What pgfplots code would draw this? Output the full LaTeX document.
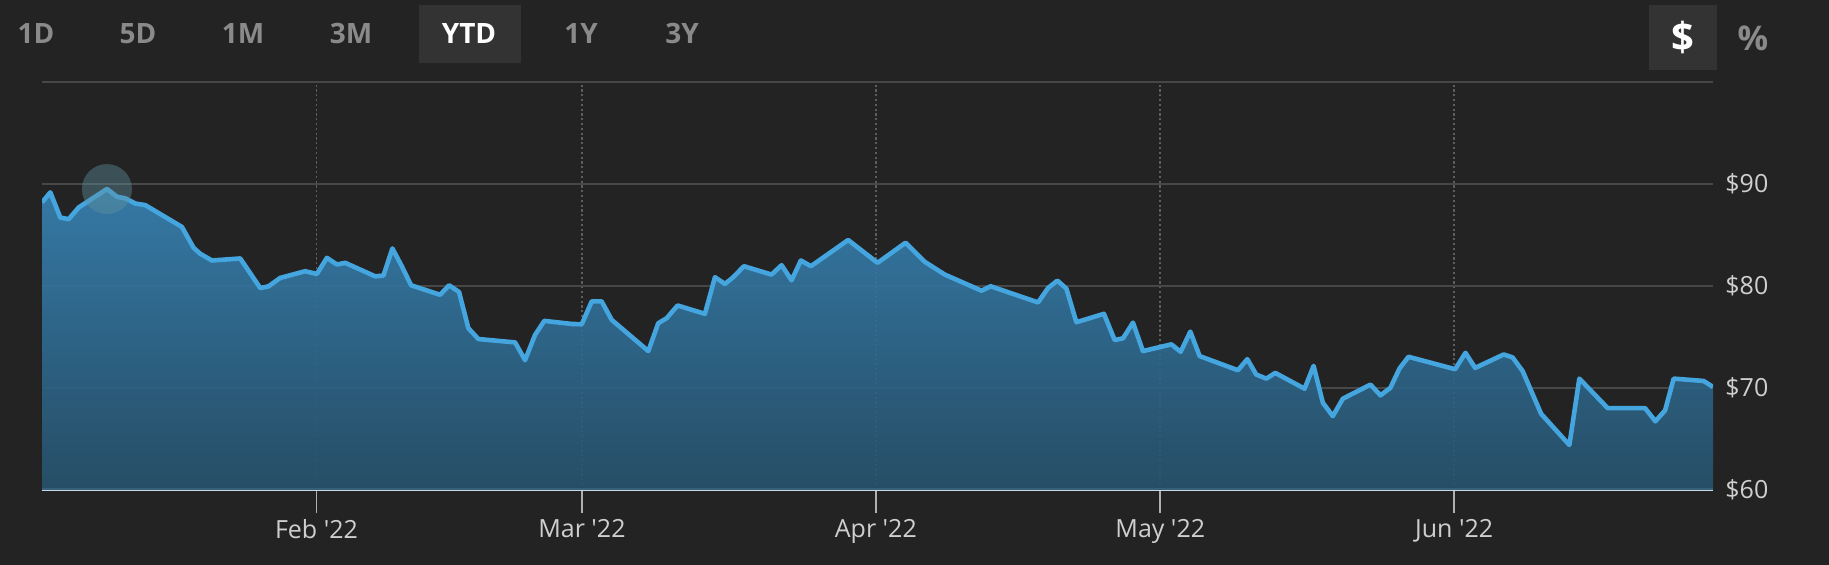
\documentclass[border=0pt]{standalone}
\usepackage{pgfplots}
\usepackage{pgfplotstable}
\pgfplotsset{compat=1.18}
\usepackage{fontspec}
\setmainfont{Open Sans}
\definecolor{bg}{HTML}{232323}
\definecolor{btnbg}{HTML}{333333}
\definecolor{btntext}{HTML}{8A8A8A}
\definecolor{gridc}{HTML}{474747}
\definecolor{xgridc}{HTML}{5E5E5E}
\definecolor{labelc}{HTML}{CFCFCF}
\definecolor{axisc}{HTML}{C9D9E8}
\definecolor{linec}{HTML}{44A5DF}
\definecolor{ftop}{HTML}{3783B4}
\definecolor{fbot}{HTML}{27526D}
\definecolor{hovc}{HTML}{5F929F}

\pgfplotstableread{
d v
2.05 88.19
2.93 89.18
3.98 86.71
4.86 86.55
5.92 87.70
8.90 89.51
9.96 88.75
10.83 88.59
11.89 88.09
12.94 87.93
16.81 85.79
18.04 83.75
18.74 83.16
19.97 82.50
22.96 82.70
25.07 79.80
25.95 79.97
27.17 80.79
29.81 81.45
31.04 81.18
32.10 82.76
33.15 82.11
34.03 82.27
37.19 80.95
38.06 81.02
39.01 83.68
40.00 81.94
40.98 80.07
44.04 79.14
44.99 80.07
46.04 79.41
47.02 75.86
48.08 74.80
51.95 74.47
53.00 72.73
54.05 75.20
55.03 76.58
57.92 76.28
58.98 76.25
60.03 78.49
61.08 78.49
62.14 76.68
66.00 73.62
67.05 76.35
67.93 76.84
69.09 78.09
71.97 77.27
73.03 80.86
74.08 80.20
74.96 80.86
76.08 81.94
79.00 81.12
80.06 82.04
81.11 80.56
82.09 82.50
83.15 81.94
87.08 84.51
90.18 82.27
93.13 84.24
95.16 82.37
97.27 81.12
101.14 79.54
102.12 79.97
107.11 78.39
108.16 79.80
109.15 80.53
110.10 79.74
111.15 76.45
114.06 77.27
115.19 74.70
116.07 74.87
117.12 76.41
118.17 73.62
121.17 74.28
122.15 73.55
123.17 75.53
124.15 73.13
128.19 71.74
129.18 72.83
130.12 71.32
131.18 70.92
132.13 71.48
135.22 69.93
136.17 72.17
137.15 68.55
138.20 67.24
139.25 68.95
142.17 70.33
143.23 69.28
144.28 70.03
145.23 71.91
146.18 73.06
151.10 71.84
152.19 73.45
153.21 71.97
156.23 73.29
157.17 72.99
158.23 71.64
160.17 67.47
163.15 64.41
164.20 70.92
167.19 68.03
171.13 68.03
172.22 66.74
173.24 67.80
174.15 70.92
177.31 70.69
178.30 70.10
}\pricedata

\begin{document}
\begin{tikzpicture}
\fill[bg] (0,0) rectangle (914.5pt,-282.5pt);
% range buttons
\fill[btnbg] (209.5pt,-2.5pt) rectangle (260.5pt,-31.5pt);
\fill[btnbg] (824.5pt,-2.5pt) rectangle (858.5pt,-35pt);
\begin{scope}[every node/.style={font=\fontsize{14}{16}\selectfont\bfseries, text=btntext, inner sep=0pt}]
\node at (18pt,-17pt) {1D};
\node at (69pt,-17pt) {5D};
\node at (121.5pt,-17pt) {1M};
\node at (175.5pt,-17pt) {3M};
\node[text=white] at (234.5pt,-17pt) {YTD};
\node at (290.5pt,-17pt) {1Y};
\node at (341pt,-17pt) {3Y};
\node[text=white, font=\fontsize{20}{22}\selectfont\bfseries] at (841.5pt,-18.5pt) {\$};
\node[font=\fontsize{17}{19}\selectfont\bfseries] at (876.5pt,-19pt) {\%};
\end{scope}
\begin{axis}[
  at={(21pt,-245pt)}, anchor=south west,
  scale only axis, width=835.5pt, height=204pt,
  xmin=2.05, xmax=178.3, ymin=60, ymax=100,
  axis x line*=bottom, axis y line*=right,
  separate axis lines,
  x axis line style={draw=axisc, line width=1.5pt, -},
  y axis line style={draw=none},
  xtick={31,59,90,120,151},
  xticklabels={Feb \textquotesingle22, Mar \textquotesingle22, Apr \textquotesingle22, May \textquotesingle22, Jun \textquotesingle22},
  ytick={60,70,80,90},
  extra y ticks={100}, extra y tick labels={},
  extra y tick style={grid=major, ytick style={draw=none}},
  yticklabel={\$\pgfmathprintnumber{\tick}},
  /pgf/number format/assume math mode=true,
  tick align=outside, major tick length=11.5pt,
  xtick pos=bottom, ytick pos=right,
  x tick style={draw=labelc!85!black, line width=0.8pt},
  y tick style={draw=none},
  xmajorgrids, ymajorgrids,
  x grid style={draw=xgridc, line width=0.9pt, dash pattern=on 1.1pt off 1.3pt},
  y grid style={draw=gridc, line width=1pt},
  tick label style={font=\fontsize{12.5}{15}\selectfont, text=labelc},
  xticklabel style={anchor=north, inner sep=0pt, yshift=-3pt},
  yticklabel style={anchor=west, inner sep=0pt, xshift=-5.5pt},
]
\addplot[draw=none, top color=ftop, bottom color=fbot, fill opacity=0.9]
  table[x=d, y=v] {\pricedata} -- (axis cs:178.3,60) -- (axis cs:2.05,60) -- cycle;
\addplot[color=linec, line width=2.3pt, line join=round, mark=none]
  table[x=d, y=v] {\pricedata};
\addplot[only marks, color=hovc, mark=*, mark size=12.5pt,
  mark options={solid, fill=hovc, fill opacity=0.42, draw opacity=0}]
  coordinates {(8.9,89.5)};
\end{axis}
\end{tikzpicture}
\end{document}
